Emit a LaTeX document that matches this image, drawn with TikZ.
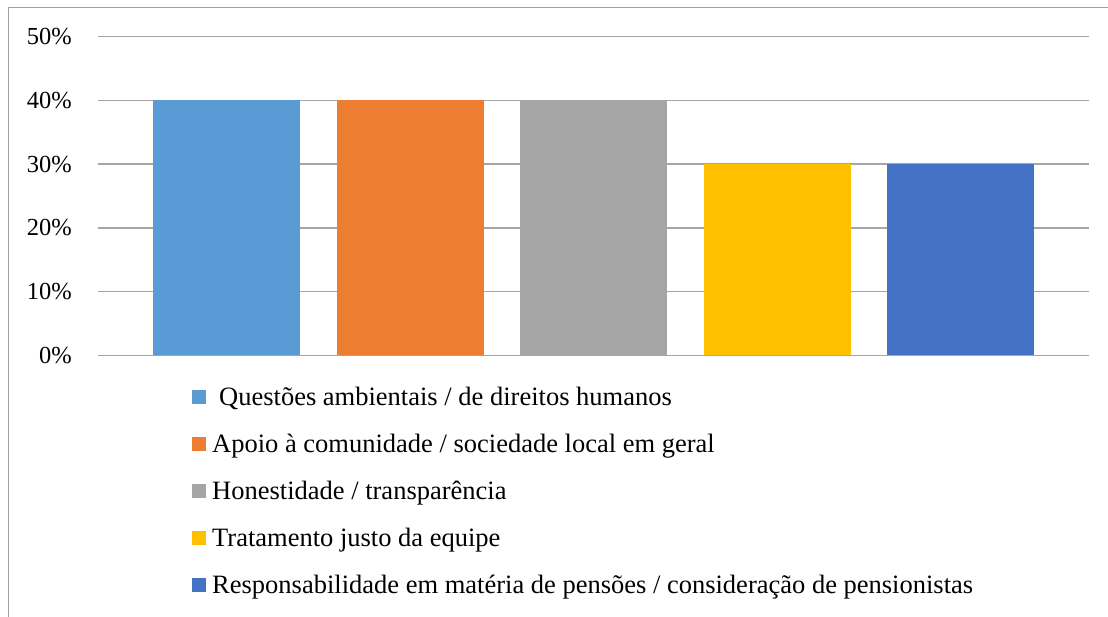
\documentclass[tikz,border=0pt]{standalone}
\usepackage{fontspec}
\setmainfont{Liberation Serif}
\definecolor{cA}{HTML}{5B9BD5}
\definecolor{cB}{HTML}{ED7D31}
\definecolor{cC}{HTML}{A5A5A5}
\definecolor{cD}{HTML}{FFC000}
\definecolor{cE}{HTML}{4472C4}
\definecolor{gridc}{HTML}{A6A6A6}
\definecolor{framec}{HTML}{A0A0A0}
\begin{document}
\begin{tikzpicture}[x=1pt,y=-1pt,
  gridline/.style={draw=gridc,line width=1.4pt},
  ylab/.style={anchor=east,inner sep=0pt,font=\fontsize{24.5}{28}\selectfont},
  legtxt/.style={anchor=base west,inner sep=0pt,font=\fontsize{26.5}{30}\selectfont},
  legsq/.style={minimum width=14pt,minimum height=14pt,inner sep=0pt,anchor=west}]
\useasboundingbox (0,0) rectangle (1108,617);
\fill[white] (0,0) rectangle (1108,617);
\draw[framec,line width=1.3pt] (8.5,617) -- (8.5,7.5) -- (1108,7.5);
% grid
\foreach \v/\y in {0/355.5,10/291.7,20/227.9,30/164.1,40/100.3,50/36.5}{
  \draw[gridline] (98,\y) -- (1089,\y);
  \node[ylab] (y\v) at (72,\y) {\v\%};
}
% bars
\fill[cA] (153,100.3) rectangle (300,355);
\fill[cB] (337,100.3) rectangle (484,355);
\fill[cC] (520,100.3) rectangle (667,355);
\fill[cD] (704,164.1) rectangle (851,355);
\fill[cE] (887,164.1) rectangle (1034,355);
\draw[gridline] (98,355.5) -- (1089,355.5);
% legend
\foreach \c/\y/\t/\dx in {cA/397/{Questões ambientais / de direitos humanos}/219,
  cB/444/{Apoio à comunidade / sociedade local em geral}/212,
  cC/491/{Honestidade / transparência}/212,
  cD/538/{Tratamento justo da equipe}/212,
  cE/585/{Responsabilidade em matéria de pensões / consideração de pensionistas}/212}{
  \node[legsq,fill=\c] (sq\c) at (192,\y) {};
  \node[legtxt] (lt\c) at (\dx,\y+8.5) {\t};
}
\end{tikzpicture}
\end{document}
